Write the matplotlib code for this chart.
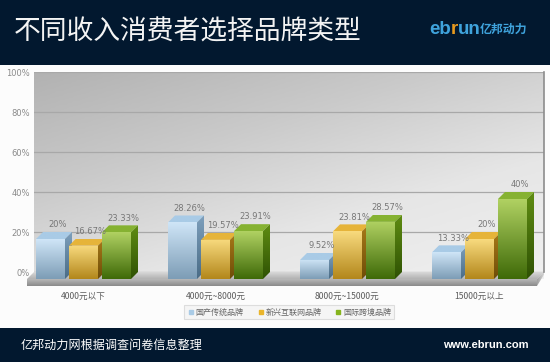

import matplotlib
matplotlib.use('Agg')
import matplotlib.pyplot as plt
import numpy as np
from matplotlib.colors import LinearSegmentedColormap as LSC, to_rgb
from matplotlib.lines import Line2D
from matplotlib.patches import Polygon, Rectangle

plt.rcParams['font.family'] = ['DejaVu Sans', 'Noto Sans CJK SC']

categories = ['4000元以下', '4000元~8000元', '8000元~15000元', '15000元以上']
series_names = ['国产传统品牌', '新兴互联网品牌', '国际跨境品牌']
traditional = [20, 28.26, 9.52, 13.33]
internet = [16.67, 19.57, 23.81, 20]
crossborder = [23.33, 23.91, 28.57, 40]
label_traditional = ['20%', '28.26%', '9.52%', '13.33%']
label_internet = ['16.67%', '19.57%', '23.81%', '20%']
label_crossborder = ['23.33%', '23.91%', '28.57%', '40%']
y_ticks = [0, 20, 40, 60, 80, 100]

W, H = 550, 362
fig = plt.figure(figsize=(W / 100, H / 100), dpi=100, facecolor='#fcfcfc')

# axes: y=0 is the front of the floor, wall sits DY behind it
px_unit = 132.0   # pixels per category
x0_px = 83.5      # pixel of first category
DX = 7 / px_unit
DY = 3.5
ax = fig.add_axes([34 / W, 1 - 279 / H, 510 / W, 207 / H])
ax.set_xlim((34 - x0_px) / px_unit, (544 - x0_px) / px_unit)
ax.set_ylim(0, 103.5)
ax.set_autoscale_on(False)
ax.patch.set_visible(False)
for s in ax.spines.values():
    s.set_visible(False)


def shade(poly, top, bottom, z, horizontal=False):
    # gradient clipped to a polygon, may stick out of the axes
    xs = [p[0] for p in poly]
    ys = [p[1] for p in poly]
    if horizontal:
        g = np.linspace(0, 1, 64)[None, :, None]
    else:
        g = np.linspace(0, 1, 64)[:, None, None]
    img = np.array(to_rgb(top))[None, None, :] * (1 - g) + np.array(to_rgb(bottom))[None, None, :] * g
    im = ax.imshow(img, extent=[min(xs), max(xs), min(ys), max(ys)], aspect='auto',
                   origin='upper', zorder=z, interpolation='bilinear')
    patch = Polygon(poly, closed=True, transform=ax.transData, fc='none', ec='none')
    ax.add_patch(patch)
    patch.set_clip_on(False)
    im.set_clip_path(patch)
    im.set_clip_box(fig.bbox)


# wall, grey gradient running from top left to bottom right
cmap = LSC.from_list('wall', ['#b2b2b2', '#cacaca', '#e6e6e6', '#f0f0f0'])
xx, yy = np.meshgrid(np.linspace(0, 1, 120), np.linspace(0, 1, 120))
ax.imshow(cmap((xx * 0.55 + yy * 0.75) / 1.3), extent=[*ax.get_xlim(), *ax.get_ylim()],
          aspect='auto', origin='upper', zorder=0)

ax.set_yticks([v + DY for v in y_ticks])
ax.set_yticklabels(['%d%%' % v for v in y_ticks], color='#8a8a8a', fontsize=6)
ax.set_xticks(range(len(categories)))
ax.set_xticklabels(categories, color='#5c5c5c', fontsize=6.2, family=['Noto Sans CJK SC', 'DejaVu Sans'])
ax.tick_params(axis='both', length=0)
ax.tick_params(axis='x', pad=9.5)
ax.tick_params(axis='y', pad=3)
ax.grid(axis='y', color='#a8a8a8', lw=0.9)
for gl in ax.get_ygridlines():
    gl.set_zorder(1)

# floor slab
xl, xr = ax.get_xlim()
xa = xl - DX
xb = xr - DX
shade([(xa, 0), (xl, DY), (xr, DY), (xb, 0)], '#d8d8d8', '#b2b2b2', 2)
shade([(xa, 0), (xb, 0), (xb, -3.5), (xa, -3.5)], '#b8b8b8', '#8a8a8a', 2)
shade([(xb, 0), (xr, DY), (xr, 2.2), (xb, -3.5)], '#a0a0a0', '#dcdcdc', 2, horizontal=True)
ax.plot([xr, xr], [DY, 103.5], color='#8c8c8c', lw=1.2, zorder=2, clip_on=False)

# colours per series: front top, front bottom, top face, side top, side bottom
colours = [
    ('#cfe5f7', '#7d9db6', '#a9cbe6', '#7d9fbc', '#4a6c86'),
    ('#f8da7e', '#b3871b', '#e6b43a', '#a87a18', '#6e4c08'),
    ('#b0d162', '#3f6a08', '#86b232', '#5f8c12', '#2f5204'),
]
bar_w = 29 / px_unit
step = 33 / px_unit
rows = [(traditional, label_traditional), (internet, label_internet), (crossborder, label_crossborder)]
for i, (vals, labs) in enumerate(rows):
    c = colours[i]
    for j, v in enumerate(vals):
        x1 = j + (i - 1) * step - bar_w / 2
        x2 = x1 + bar_w
        z = 3 + i
        shade([(x1, 0), (x2, 0), (x2, v), (x1, v)], c[0], c[1], z)
        shade([(x1, v), (x1 + DX, v + DY), (x2 + DX, v + DY), (x2, v)], c[2], c[2], z)
        shade([(x2, 0), (x2 + DX, DY), (x2 + DX, v + DY), (x2, v)], c[3], c[4], z)
        ax.annotate(labs[j], ((x1 + x2) / 2 + DX, v + DY), xytext=(0, 2), textcoords='offset points',
                    ha='center', va='bottom', fontsize=6, color='#777777', zorder=8, annotation_clip=False)

# header and footer bands
navy = '#02182f'
fig.patches.append(Rectangle((0, 1 - 65 / H), 1, 65 / H, transform=fig.transFigure, fc=navy, ec='none', zorder=10))
fig.patches.append(Rectangle((0, 0), 1, 34 / H, transform=fig.transFigure, fc=navy, ec='none', zorder=10))

cjk = ['Noto Sans CJK SC', 'DejaVu Sans']
fig.text(14 / W, 1 - 32 / H, '不同收入消费者选择品牌类型', color='#f4f4f4', fontsize=19.3, family=cjk,
         va='center', ha='left', zorder=11)
fig.text(21 / W, 1 - 345 / H, '亿邦动力网根据调查问卷信息整理', color='white', fontsize=8.7, family=cjk,
         va='center', ha='left', zorder=11)
fig.text(529 / W, 1 - 345 / H, 'www.ebrun.com', color='white', fontsize=8, family='Liberation Sans',
         weight='bold', va='center', ha='right', zorder=11)
logo_blue = '#3fa3dc'
fig.text(429 / W, 1 - 34 / H, 'eb', color=logo_blue, fontsize=13.5, family='Liberation Sans', weight='bold',
         va='baseline', zorder=11)
fig.text(451 / W, 1 - 34 / H, 'r', color='#e89a1e', fontsize=13.5, family='Liberation Sans', weight='bold',
         va='baseline', zorder=11)
fig.text(458 / W, 1 - 34 / H, 'un', color=logo_blue, fontsize=13.5, family='Liberation Sans', weight='bold',
         va='baseline', zorder=11)
fig.text(480 / W, 1 - 29.5 / H, '亿邦动力', color=logo_blue, fontsize=8.6, family=cjk, weight='bold',
         va='center', zorder=11)

# legend
handles = [Line2D([], [], ls='none', marker='s', ms=2.6, color=col) for col in ['#a9cbe6', '#eab52c', '#86b41e']]
leg = fig.legend(handles, series_names, ncol=3, loc='center', bbox_to_anchor=(289 / W, 1 - 312 / H),
                 frameon=True, fancybox=False, edgecolor='#dddddd', facecolor='#f5f5f5',
                 handletextpad=0.1, columnspacing=1.6, handlelength=1.0, borderpad=0.35, framealpha=1,
                 prop={'family': cjk, 'size': 5.8})
for t in leg.get_texts():
    t.set_color('#666666')
leg.get_frame().set_linewidth(0.8)

fig.savefig('out.png', dpi=100)
